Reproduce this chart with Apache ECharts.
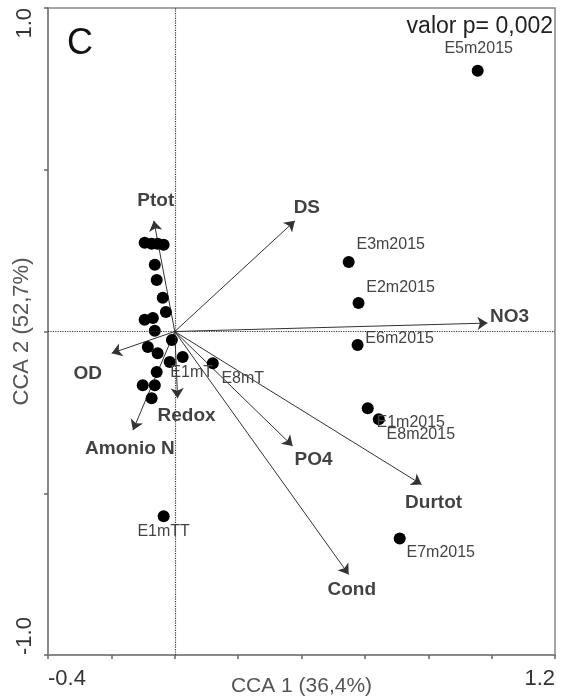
<!DOCTYPE html>
<html><head><meta charset="utf-8">
<script src="https://cdn.jsdelivr.net/npm/echarts@6/dist/echarts.min.js"></script>
<style>html,body{margin:0;padding:0;background:#fff}#c{width:562px;height:698px}</style>
</head><body><div id="c"></div>
<script>
// ---- data ----
const sampleNames = ['E5m2015','E3m2015','E2m2015','E6m2015','E1m2015','E8m2015','E7m2015','E1mTT','E8mT','E1mT'];
const sampleX = [0.956, 0.549, 0.580, 0.577, 0.609, 0.644, 0.710, -0.035, 0.120, -0.016];
const sampleY = [0.806, 0.215, 0.088, -0.042, -0.237, -0.271, -0.640, -0.571, -0.098, -0.094];

const clusterX = [-0.095,-0.073,-0.054,-0.035,-0.063,-0.057,-0.038,-0.028,-0.095,-0.069,-0.063,-0.009,-0.085,-0.054,0.025,-0.057,-0.101,-0.063,-0.073];
const clusterY = [0.274,0.271,0.271,0.268,0.206,0.159,0.104,0.060,0.036,0.042,0.002,-0.026,-0.048,-0.067,-0.079,-0.125,-0.166,-0.166,-0.206];

const varNames = ['Ptot','DS','NO3','OD','Amonio N','Redox','PO4','Durtot','Cond'];
const varX = [-0.066, 0.379, 0.987, -0.199, -0.132, 0.009, 0.372, 0.779, 0.549];
const varY = [0.342, 0.342, 0.026, -0.067, -0.305, -0.206, -0.354, -0.473, -0.751];

const xTickLabels = [-0.4, 1.2];
const yTickLabels = [-1.0, 1.0];

// ---- label offsets (style, px) ----
const varLabelOffset = {
  'Ptot':[2,-20],'DS':[12,-13],'NO3':[22,-6],'OD':[-24,21],'Amonio N':[-3,19],
  'Redox':[9,18],'PO4':[21,14],'Durtot':[12,18],'Cond':[3,15]
};
const sampleLabelOffset = {
  'E5m2015':[1,-22],'E3m2015':[42,-17],'E2m2015':[42,-15],'E6m2015':[42,-6],
  'E1m2015':[43,14],'E8m2015':[42,15],'E7m2015':[41,14],'E1mTT':[0,15],'E8mT':[30,15],'E1mT':[22,11]
};

const chart = echarts.init(document.getElementById('c'));
const fmt = (ticks) => (v) => ticks.some(t => Math.abs(t - v) < 1e-9) ? v.toFixed(1) : '';

chart.setOption({
  animation: false,
  backgroundColor: '#fff',
  title: [
    {text: 'C', left: 67, top: 26, padding: 0, textStyle: {fontFamily: 'Liberation Sans', fontSize: 36, fontWeight: 'normal', color: '#111'}},
    {text: 'valor p= 0,002', right: 9, top: 15, padding: 0, textStyle: {fontFamily: 'Liberation Sans', fontSize: 23, fontWeight: 'normal', color: '#222'}}
  ],
  grid: {left: 48, right: 7, top: 8, bottom: 43, show: true, borderColor: '#888', borderWidth: 1.5, containLabel: false, outerBoundsMode: 'none'},
  xAxis: {
    type: 'value', min: -0.4, max: 1.2, interval: 0.2,
    name: 'CCA 1 (36,4%)', nameLocation: 'middle', nameGap: 21, nameMoveOverlap: false,
    nameTextStyle: {fontFamily: 'Liberation Sans', fontSize: 21, color: '#555'},
    axisLine: {show: true, onZero: false, lineStyle: {color: '#888', width: 2}},
    axisTick: {show: true, length: 4, lineStyle: {color: '#666', width: 1.5}},
    axisLabel: {formatter: fmt(xTickLabels), fontFamily: 'Liberation Sans', fontSize: 22, color: '#333', margin: 13, alignMinLabel: 'left', alignMaxLabel: 'right'},
    splitLine: {show: false}
  },
  yAxis: {
    type: 'value', min: -1.0, max: 1.0, interval: 0.5,
    name: 'CCA 2 (52,7%)', nameLocation: 'middle', nameGap: 15, nameRotate: 90, nameMoveOverlap: false,
    nameTextStyle: {fontFamily: 'Liberation Sans', fontSize: 22, color: '#555'},
    axisLine: {show: true, onZero: false, lineStyle: {color: '#888', width: 2}},
    axisTick: {show: true, length: 4, lineStyle: {color: '#666', width: 1.5}},
    axisLabel: {formatter: fmt(yTickLabels), rotate: 90, fontFamily: 'Liberation Sans', fontSize: 22, color: '#333', margin: 12, alignMinLabel: 'left', alignMaxLabel: 'right'},
    splitLine: {show: false}
  },
  series: [
    {
      type: 'lines', coordinateSystem: 'cartesian2d', z: 2,
      symbol: ['none', 'arrow'], symbolSize: 10,
      lineStyle: {color: '#333', width: 1, opacity: 1, curveness: 0},
      data: varNames.map((n, i) => ({name: n, coords: [[0, 0], [varX[i], varY[i]]]}))
    },
    {
      type: 'scatter', z: 3, symbolSize: 0, silent: true,
      data: varNames.map((n, i) => ({
        name: n, value: [varX[i], varY[i]],
        label: {show: true, position: 'inside', offset: varLabelOffset[n], formatter: n,
          fontFamily: 'Liberation Sans', fontSize: 19, fontWeight: 'bold', color: '#111'}
      })),
      markLine: {
        silent: true, symbol: ['none', 'none'], animation: false,
        label: {show: false},
        lineStyle: {type: 'dotted', color: '#333', width: 1.2},
        data: [{xAxis: 0}, {yAxis: 0}]
      }
    },
    {
      type: 'scatter', z: 4, symbolSize: 12, itemStyle: {color: '#000', opacity: 1},
      data: clusterX.map((x, i) => [x, clusterY[i]])
    },
    {
      type: 'scatter', z: 4, symbolSize: 12, itemStyle: {color: '#000', opacity: 1},
      data: sampleNames.map((n, i) => ({
        name: n, value: [sampleX[i], sampleY[i]],
        label: {show: true, position: 'inside', offset: sampleLabelOffset[n], formatter: n,
          fontFamily: 'Liberation Sans', fontSize: 16, color: '#444'}
      }))
    }
  ]
});
</script></body></html>
